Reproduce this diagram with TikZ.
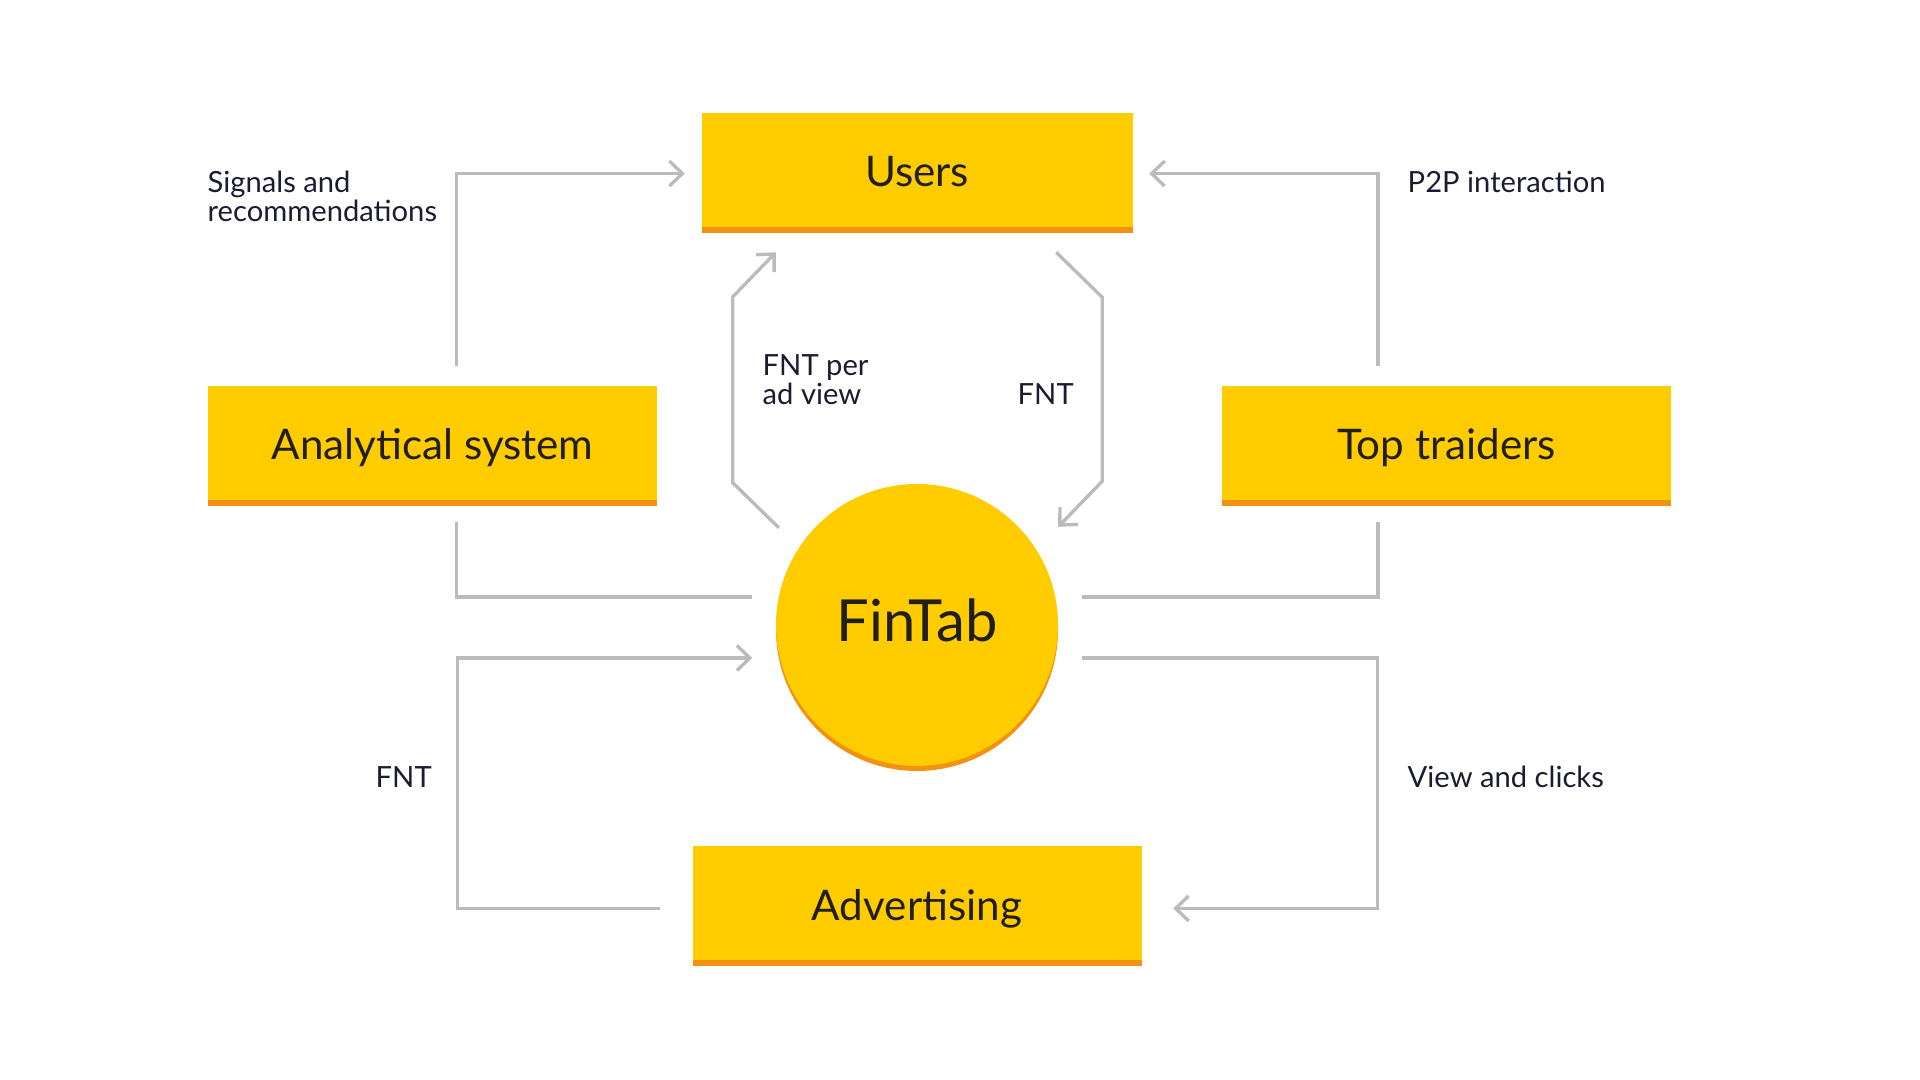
\documentclass[tikz,border=0pt]{standalone}
\usepackage{fontspec}
\setmainfont{Lato}
\usepackage{tikz}
\usetikzlibrary{arrows.meta,positioning,shadows}
\definecolor{boxyellow}{HTML}{FFCC00}
\definecolor{barorange}{HTML}{F39112}
\definecolor{linkgray}{HTML}{BBBBBB}
\definecolor{boxtext}{HTML}{221F1A}
\definecolor{lbltext}{HTML}{1B1B32}

\begin{document}
\begin{tikzpicture}[
box/.style={fill=boxyellow,minimum width=44.9mm,minimum height=11.4mm,inner sep=0pt,text height=3.4mm,text depth=0pt,font=\fontsize{12}{14}\selectfont,text=boxtext,drop shadow={shadow xshift=0mm,shadow yshift=-0.6mm,fill=barorange,opacity=1}},
hub/.style={circle,fill=boxyellow,minimum size=28.2mm,inner sep=0pt,text height=3.4mm,text depth=0pt,font=\fontsize{16.5}{19}\selectfont,text=boxtext,drop shadow={shadow xshift=0mm,shadow yshift=-0.5mm,fill=barorange,opacity=1}},
lbl/.style={inner sep=0pt,anchor=base west,align=left,font=\fontsize{8.3}{8.5}\selectfont,text=lbltext},
link/.style={draw=linkgray,line width=0.95pt},
t/.style={link,-{Straight Barb[length=1.3mm,width=2.5mm]}}
]
\useasboundingbox (0,0) rectangle (19.2,10.8);
\node[hub] (fintab) at (9.17,4.55) {FinTab};
\node[box,minimum width=43.1mm,above=2.56cm of fintab] (users) {Users};
\node[box,below=0.79cm of fintab] (advertising) {Advertising};
\node[box,below left=1.58cm and 0.43cm of users] (analytical) {Analytical system};
\node[box,below right=1.58cm and 0.88cm of users] (toptraders) {Top traiders};

\draw[t] ([xshift=2.4mm,yshift=1.9mm]analytical.north) |- ([xshift=-1.6mm,yshift=-0.4mm]users.west);
\draw[t] ([xshift=-6.85mm,yshift=1.9mm]toptraders.north) |- ([xshift=1.6mm,yshift=-0.4mm]users.east);
\draw[link] ([xshift=2.4mm,yshift=-2.1mm]analytical.south) |- ([xshift=-2.3mm,yshift=2.8mm]fintab.west);
\draw[link] ([xshift=-6.85mm,yshift=-2.1mm]toptraders.south) |- ([xshift=2.3mm,yshift=2.8mm]fintab.east);
\draw[t] ([xshift=-3.2mm,yshift=-0.5mm]advertising.west) -| ([xshift=-31.8mm,yshift=-3.3mm]fintab.west) -- ([xshift=-2.3mm,yshift=-3.3mm]fintab.west);
\draw[t] ([xshift=2.3mm,yshift=-3.3mm]fintab.east) -| ([xshift=23.55mm,yshift=-0.5mm]advertising.east) -- ([xshift=3.1mm,yshift=-0.5mm]advertising.east);
\draw[t] ([xshift=-3.8mm,yshift=-0.3mm]fintab.north west) -- ++(-0.46,0.45) -- ++(0,1.86) -- ([xshift=7.5mm,yshift=-2.5mm]users.south west);
\draw[t] ([xshift=-7.7mm,yshift=-2.5mm]users.south east) -- ++(0.46,-0.45) -- ++(0,-1.84) -- ([xshift=4.1mm,yshift=-0.2mm]fintab.north east);

\node[lbl] (signals) at (2.07,8.58) {Signals and\\recommendations};
\node[lbl] (p2p) at (14.07,8.87) {P2P interaction};
\node[lbl] (fntad) at (7.62,6.75) {FNT per\\ad view};
\node[lbl] (fntusers) at (10.17,6.75) {FNT};
\node[lbl] (fntadv) at (3.75,2.92) {FNT};
\node[lbl] (views) at (14.07,2.92) {View and clicks};
\end{tikzpicture}
\end{document}
